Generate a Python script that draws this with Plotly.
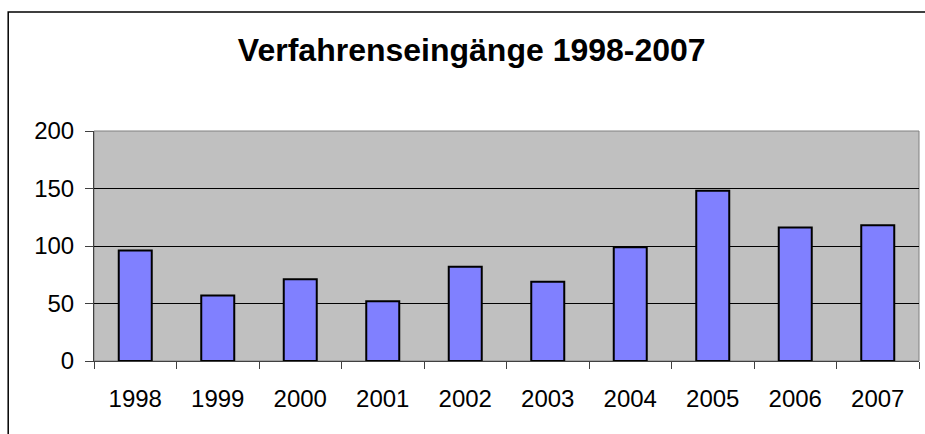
import plotly.graph_objects as go

years = ["1998", "1999", "2000", "2001", "2002", "2003", "2004", "2005", "2006", "2007"]
eingaenge = [96, 57, 71, 52, 82, 69, 99, 148, 116, 118]
y_ticks = [0, 50, 100, 150, 200]

FONT = "Liberation Sans, Arial, sans-serif"

fig = go.Figure()
fig.add_trace(go.Bar(
    x=years,
    y=eingaenge,
    marker=dict(color="#8080FF", line=dict(color="black", width=2)),
    hoverinfo="x+y",
))

fig.update_layout(
    width=925,
    height=434,
    margin=dict(l=94, r=6, t=131, b=73),
    paper_bgcolor="white",
    plot_bgcolor="#C0C0C0",
    bargap=0.6,
    showlegend=False,
    font=dict(family=FONT, size=24, color="black"),
    title=dict(
        text="<b>Verfahrenseingänge 1998-2007</b>",
        font=dict(family=FONT, size=32, color="black"),
        xref="container", x=0.51, xanchor="center",
        yref="container", y=0.885, yanchor="middle",
    ),
    xaxis=dict(
        type="category",
        tickson="boundaries",
        ticks="outside",
        ticklen=7,
        tickcolor="#404040",
        showline=True,
        linecolor="#404040",
        linewidth=1,
        showgrid=False,
        ticklabelstandoff=16,
    ),
    yaxis=dict(
        range=[0, 200],
        tickvals=y_ticks,
        ticks="outside",
        ticklen=8,
        tickcolor="#404040",
        showline=True,
        linecolor="#404040",
        linewidth=1,
        showgrid=True,
        gridcolor="black",
        gridwidth=1,
        zeroline=False,
        ticklabelstandoff=6,
    ),
    shapes=[
        # plot area frame (top / right)
        dict(type="rect", xref="paper", yref="paper", x0=0, x1=1, y0=0, y1=1,
             line=dict(color="#808080", width=1), layer="below"),
        # chart area border
        dict(type="rect", xref="paper", yref="paper", x0=-0.104, x1=1.5, y0=-1, y1=1.517,
             line=dict(color="black", width=1.5)),
    ],
)

# page body has a default margin, drop it so the figure sits at 0,0
fig.write_html(
    "out.html",
    config={"displayModeBar": False},
    post_script="document.body.style.margin='0';",
)
